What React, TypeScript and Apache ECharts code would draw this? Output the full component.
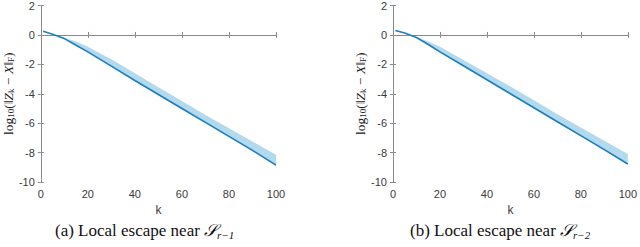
import React, { useEffect, useRef } from "react";
import * as echarts from "echarts";

// iteration index k
const kValues = [1, 5, 10, 15, 20, 30, 40, 50, 60, 70, 80, 90, 100];

// (a) Local escape near S_{r-1}
const meanA = [0.25, 0.05, -0.25, -0.7, -1.15, -2.12, -3.1, -4.05, -5.0, -5.95, -6.9, -7.85, -8.85];
const upperA = [0.25, 0.05, -0.2, -0.45, -0.8, -1.65, -2.6, -3.55, -4.5, -5.45, -6.35, -7.25, -8.15];
const lowerA = [0.25, 0.03, -0.28, -0.73, -1.2, -2.17, -3.15, -4.1, -5.05, -6.0, -6.95, -7.9, -8.9];

// (b) Local escape near S_{r-2}
const meanB = [0.3, 0.13, -0.18, -0.65, -1.15, -2.1, -3.05, -4.0, -4.95, -5.9, -6.85, -7.8, -8.78];
const upperB = [0.3, 0.13, -0.15, -0.45, -0.8, -1.7, -2.6, -3.5, -4.45, -5.4, -6.3, -7.2, -8.1];
const lowerB = [0.3, 0.11, -0.22, -0.69, -1.2, -2.15, -3.1, -4.05, -5.0, -5.95, -6.9, -7.85, -8.83];

const captions = ["(a) Local escape near ", "(b) Local escape near "];
const captionSubs = ["r\u22121", "r\u22122"];
const xName = "k";

const AXIS_COLOR = "#8a8a8a";
const LABEL_COLOR = "#3a3a3a";
const LINE_COLOR = "#1b7fc0";
const BAND_COLOR = "#b3d9ec";

function zip(xs: number[], ys: number[]) {
  return xs.map((x, i) => [x, ys[i]]);
}

export default function App() {
  const ref = useRef<HTMLDivElement>(null);
  useEffect(() => {
    if (!ref.current) return;
    const chart = echarts.init(ref.current, undefined, { renderer: "svg" });

    const grids = [
      { left: 38, top: 4, width: 238, height: 178 },
      { left: 393, top: 4, width: 238, height: 178 },
    ];
    const xAxes: any[] = [];
    const yAxes: any[] = [];
    const series: any[] = [];
    const sets = [
      { mean: meanA, upper: upperA, lower: lowerA },
      { mean: meanB, upper: upperB, lower: lowerB },
    ];
    const tickFont = { fontFamily: "Liberation Sans, Arial, sans-serif", fontSize: 11, color: LABEL_COLOR };
    const yName =
      "log{sub|10}(\u2016{it|Z}{sub|k} \u2212 {it|X}\u2016{sub|F})";

    sets.forEach((s, g) => {
      const base = {
        gridIndex: g,
        type: "value",
        axisLine: { show: true, lineStyle: { color: AXIS_COLOR, width: 1 } },
        axisTick: { show: true, inside: true, length: 3, lineStyle: { color: AXIS_COLOR } },
        splitLine: { show: false },
      };
      xAxes.push({
        ...base,
        position: "bottom",
        min: 0,
        max: 100,
        interval: 20,
        axisLabel: { ...tickFont, margin: 6 },
        name: xName,
        nameLocation: "middle",
        nameGap: 19,
        nameTextStyle: { ...tickFont, fontSize: 12 },
      });
      xAxes.push({
        ...base,
        position: "top",
        min: 0,
        max: 100,
        interval: 20,
        axisLabel: { show: false },
      });
      yAxes.push({
        ...base,
        position: "left",
        min: -10,
        max: 2,
        interval: 2,
        axisLabel: { ...tickFont, margin: 6 },
        name: yName,
        nameLocation: "middle",
        nameRotate: 90,
        nameGap: 25,
        nameTextStyle: {
          fontFamily: "Liberation Serif, serif",
          fontSize: 13.5,
          color: "#222",
          rich: {
            sub: { fontFamily: "Liberation Serif, serif", fontSize: 9, color: "#222", verticalAlign: "bottom", lineHeight: 13 },
            it: { fontFamily: "Liberation Serif, serif", fontStyle: "italic", fontSize: 13.5, color: "#222" },
          },
        },
      });
      yAxes.push({
        ...base,
        position: "right",
        min: -10,
        max: 2,
        interval: 2,
        axisLabel: { show: false },
      });
      const xi = g * 2;
      const yi = g * 2;
      const upper = s.upper;
      const lower = s.lower;
      series.push({
        type: "custom",
        xAxisIndex: xi,
        yAxisIndex: yi,
        silent: true,
        data: [[kValues[0], upper[0]]],
        renderItem: (_params: any, api: any) => {
          const top = kValues.map((k, i) => api.coord([k, upper[i]]));
          const bottom = kValues.map((k, i) => api.coord([k, lower[i]])).reverse();
          return {
            type: "polygon",
            shape: { points: top.concat(bottom) },
            style: { fill: BAND_COLOR },
          };
        },
      });
      series.push({
        type: "line",
        xAxisIndex: xi,
        yAxisIndex: yi,
        symbol: "none",
        lineStyle: { color: LINE_COLOR, width: 1.6 },
        data: zip(kValues, s.mean),
      });
    });

    const capFont = "Liberation Serif, serif";
    const title = captions.map((c, i) => ({
      text: c + "{S|\uD835\uDCAE}{sub|" + captionSubs[i] + "}",
      left: i === 0 ? 55 : 410,
      top: 220,
      padding: 0,
      textStyle: {
        fontFamily: capFont,
        fontSize: 17,
        fontWeight: "normal",
        color: "#111",
        lineHeight: 20,
        rich: {
          S: { fontFamily: capFont, fontSize: 17, color: "#111", fontStyle: "italic", lineHeight: 20 },
          sub: { fontFamily: capFont, fontSize: 11, color: "#111", fontStyle: "italic", verticalAlign: "bottom", lineHeight: 11 },
        },
      },
    }));

    chart.setOption({
      animation: false,
      backgroundColor: "#fff",
      title,
      grid: grids,
      xAxis: xAxes,
      yAxis: yAxes,
      series,
    });
    return () => chart.dispose();
  }, []);
  return (
    <div
      ref={ref}
      style={{ position: "fixed", left: 0, top: 0, width: 640, height: 247 }}
    />
  );
}
